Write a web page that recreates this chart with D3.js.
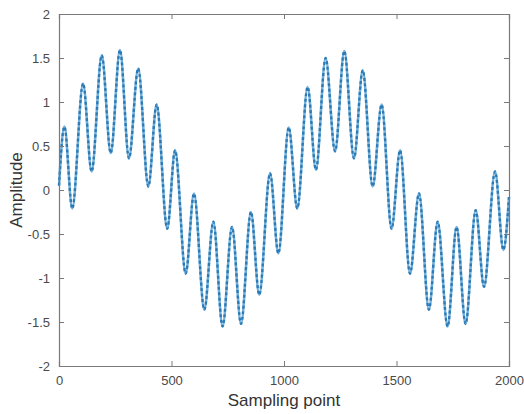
<!DOCTYPE html>
<html>
<head>
<meta charset="utf-8">
<script src="https://cdn.jsdelivr.net/npm/d3@7/dist/d3.min.js"></script>
<style>
	body { margin: 0; background: #fff; }
	svg { display: block; font-family: "Liberation Sans", Arial, sans-serif; }
	.tick-label { fill: #4a4a4a; font-size: 13px; }
	.axis-title { fill: #333; font-size: 17px; }
</style>
</head>
<body>
<div class="js-signal-chart"></div>
<script>
// peaks and troughs
var samplePoints = [0, 24, 59, 107, 145, 190, 230, 271, 311, 352, 397, 434, 481,
	516, 563, 600, 646, 686, 727, 769, 809, 853, 890, 938, 975,
	1021, 1059, 1105, 1142, 1185, 1227, 1268, 1311, 1350, 1394, 1434, 1478,
	1516, 1560, 1600, 1644, 1683, 1727, 1767, 1807, 1852, 1889, 1938, 1975, 2000];
var amplitudes = [0.05, 0.72, -0.21, 1.21, 0.21, 1.53, 0.42, 1.59, 0.36, 1.38, 0.04, 0.97, -0.44,
	0.45, -0.95, -0.04, -1.36, -0.36, -1.55, -0.42, -1.52, -0.25, -1.19, 0.19, -0.72,
	0.71, -0.21, 1.17, 0.23, 1.50, 0.44, 1.58, 0.36, 1.36, 0.04, 0.97, -0.44,
	0.45, -0.95, -0.04, -1.36, -0.36, -1.55, -0.42, -1.52, -0.23, -1.10, 0.21, -0.68, -0.08];
var xTicks = [0, 500, 1000, 1500, 2000];
var yTicks = [-2, -1.5, -1, -0.5, 0, 0.5, 1, 1.5, 2];

drawSignal('.js-signal-chart');

function drawSignal(element) {
	var svg = d3.select(element).append('svg')
			.attr('width', 524)
			.attr('height', 414),
		margin = {
			top: 14,
			right: 15,
			bottom: 48,
			left: 59
		},
		width = +svg.attr('width') - margin.left - margin.right,
		height = +svg.attr('height') - margin.top - margin.bottom,
		g = svg.append('g').attr('transform', 'translate(' + margin.left + ',' + margin.top + ')');

	var x = d3.scaleLinear().domain([0, 2000]).range([0, width]);
	var y = d3.scaleLinear().domain([-2, 2]).range([height, 0]);

	var data = samplePoints.map(function(s, i) {
		return { s: s, v: amplitudes[i] };
	});

	var line = d3.line()
		.x(function(d) { return x(d.s); })
		.y(function(d) { return y(d.v); })
		.curve(d3.curveMonotoneX);

	// signal: light body + darker dashed core for the noisy look
	g.append('path')
		.datum(data)
		.attr('fill', 'none')
		.attr('stroke', '#74b0da')
		.attr('stroke-width', 2.6)
		.attr('d', line);

	g.append('path')
		.datum(data)
		.attr('fill', 'none')
		.attr('stroke', '#2a7ab6')
		.attr('stroke-width', 2.3)
		.attr('stroke-dasharray', '3,2.5')
		.attr('d', line);

	// axes, MATLAB style box with inward ticks
	var axisColor = '#7a7a7a';

	g.append('g')
		.attr('transform', 'translate(0,' + height + ')')
		.call(d3.axisBottom(x).tickValues(xTicks).tickSize(-5).tickPadding(10).tickFormat(d3.format('d')))
		.call(styleAxis);

	g.append('g')
		.call(d3.axisTop(x).tickValues(xTicks).tickSize(-5).tickFormat(''))
		.call(styleAxis);

	g.append('g')
		.call(d3.axisLeft(y).tickValues(yTicks).tickSize(-5).tickPadding(9).tickFormat(function(d) { return String(d); }))
		.call(styleAxis);

	g.append('g')
		.attr('transform', 'translate(' + width + ',0)')
		.call(d3.axisRight(y).tickValues(yTicks).tickSize(-5).tickFormat(''))
		.call(styleAxis);

	function styleAxis(sel) {
		sel.select('.domain').attr('stroke', axisColor).attr('stroke-width', 1.2);
		sel.selectAll('.tick line').attr('stroke', axisColor);
		sel.selectAll('.tick text').attr('class', 'tick-label').attr('font-size', null).attr('font-family', null);
		sel.attr('font-size', null).attr('font-family', null);
	}

	svg.append('text')
		.attr('class', 'axis-title')
		.attr('x', margin.left + width / 2)
		.attr('y', 406)
		.attr('text-anchor', 'middle')
		.text('Sampling point');

	svg.append('text')
		.attr('class', 'axis-title')
		.attr('transform', 'translate(22,' + (margin.top + height / 2) + ') rotate(-90)')
		.attr('text-anchor', 'middle')
		.text('Amplitude');
}
</script>
</body>
</html>
